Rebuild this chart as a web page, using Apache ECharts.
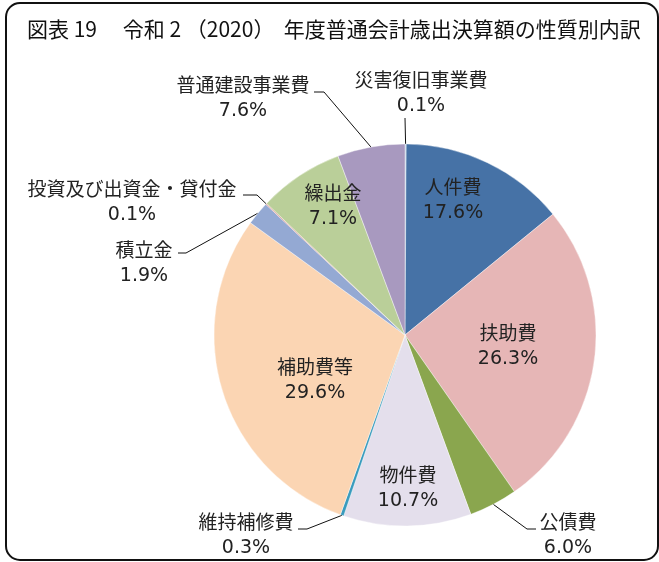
<!DOCTYPE html>
<html>
<head>
<meta charset="utf-8">
<script src="https://cdn.jsdelivr.net/npm/echarts@6/dist/echarts.min.js"></script>
<style>
  html, body { margin: 0; padding: 0; background: #fff; }
  #main { width: 659px; height: 562px; }
</style>
</head>
<body>
<div id="main"></div>
<script>
// 性質別内訳（時計回り、12時の位置から）
var categories = ['災害復旧事業費', '人件費', '扶助費', '公債費', '物件費', '維持補修費',
    '補助費等', '積立金', '投資及び出資金・貸付金', '繰出金', '普通建設事業費'];
// 扇の大きさ（図から読んだ角度）
var sliceValues = [0.1, 14.0, 26.2, 4.1, 10.8, 0.3, 29.5, 2.0, 0.1, 7.2, 5.7];
// 図に印字された構成比
var pctLabels = ['0.1%', '17.6%', '26.3%', '6.0%', '10.7%', '0.3%', '29.6%', '1.9%', '0.1%', '7.1%', '7.6%'];

var colors = ['#abc6e0', '#4672a6', '#e6b6b6', '#8aa64e', '#e4dfec', '#3a9bbd',
    '#fbd5b3', '#94a9d3', '#d9908c', '#bacf99', '#a899bf'];

// ラベル位置 [x, y] と引出線の折れ点
var labelPos = {
    0: {x: 421, y: 93, line: [[405, 118]]},
    1: {x: 453, y: 200},
    2: {x: 508, y: 346},
    3: {x: 568, y: 535, line: [[527, 529], [536, 529]]},
    4: {x: 408, y: 488},
    5: {x: 246, y: 535, line: [[307, 529], [298, 529]]},
    6: {x: 315, y: 380},
    7: {x: 144, y: 263, line: [[186, 253], [178, 253]]},
    8: {x: 132, y: 202, line: [[257, 195], [243, 195]]},
    9: {x: 333, y: 206},
    10: {x: 243, y: 98, line: [[324, 92], [314, 92]]}
};

var pieData = [];
for (var i = 0; i < categories.length; i++) {
    var item = {
        name: categories[i],
        value: sliceValues[i],
        itemStyle: {color: colors[i]}
    };
    if (!labelPos[i].line) {
        item.labelLine = {show: false};
    }
    pieData.push(item);
}

var myChart = echarts.init(document.getElementById('main'));

var option = {
    animation: false,
    title: {
        text: '図表 19　 令和 2 （2020）  年度普通会計歳出決算額の性質別内訳',
        left: 22,
        top: 14,
        textStyle: {
            fontFamily: 'Noto Sans CJK JP',
            fontSize: 21,
            fontWeight: 'normal',
            color: '#111'
        }
    },
    graphic: [
        {
            type: 'rect',
            shape: {x: 6, y: 3, width: 652, height: 557, r: 14},
            style: {fill: 'none', stroke: '#111', lineWidth: 2},
            silent: true
        }
    ],
    series: [
        {
            type: 'pie',
            center: [405, 335],
            radius: 191,
            startAngle: 90,
            clockwise: true,
            avoidLabelOverlap: false,
            itemStyle: {borderColor: '#fff', borderWidth: 0.4},
            label: {
                position: 'outside',
                color: '#222',
                align: 'center',
                formatter: function (p) {
                    return '{n|' + p.name + '}\n{p|' + pctLabels[p.dataIndex] + '}';
                },
                rich: {
                    n: {
                        fontFamily: 'Noto Sans CJK JP',
                        fontSize: 19,
                        lineHeight: 26,
                        color: '#222'
                    },
                    p: {
                        fontFamily: 'DejaVu Sans',
                        fontSize: 19,
                        lineHeight: 26,
                        color: '#222'
                    }
                }
            },
            labelLine: {
                show: true,
                lineStyle: {color: '#111', width: 1}
            },
            labelLayout: function (params) {
                var pos = labelPos[params.dataIndex];
                var res = {x: pos.x, y: pos.y, align: 'center', verticalAlign: 'middle'};
                if (pos.line && params.labelLinePoints) {
                    var pts = [params.labelLinePoints[0]].concat(pos.line);
                    if (pts.length < 3) pts.push(pos.line[pos.line.length - 1]);
                    res.labelLinePoints = pts;
                }
                return res;
            },
            data: pieData
        }
    ]
};

myChart.setOption(option);
</script>
</body>
</html>
